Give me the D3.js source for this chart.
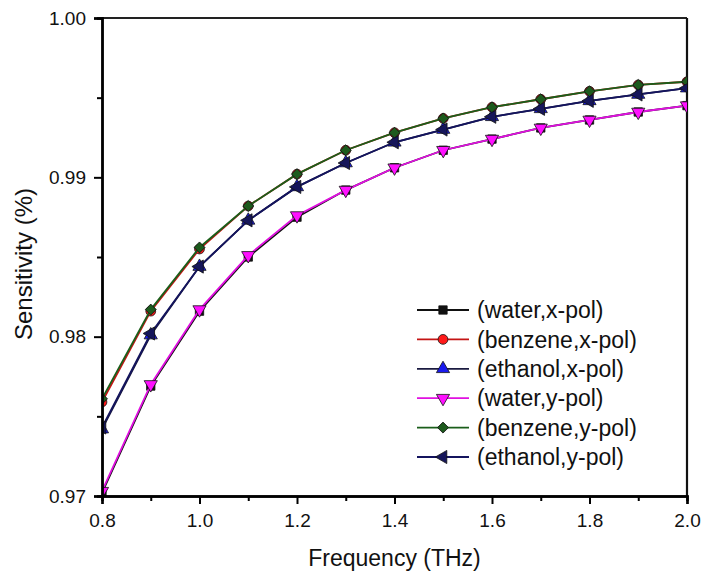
<!DOCTYPE html>
<html>
<head>
<meta charset="utf-8">
<title>sensitivity chart</title>
<script src="https://d3js.org/d3.v7.min.js"></script>
<style>
body { margin: 0; background: #fff; }
svg text { font-family: "Liberation Sans", Arial, sans-serif; fill: #111; }
</style>
</head>
<body>
<svg id="chart" width="702" height="574"></svg>
<script>
// frequency points (THz)
const freq = [0.8, 0.9, 1.0, 1.1, 1.2, 1.3, 1.4, 1.5, 1.6, 1.7, 1.8, 1.9, 2.0];

// sensitivity values
const waterX   = [0.9702, 0.9769, 0.9816, 0.9850, 0.9875, 0.9892, 0.9906, 0.9917, 0.9924, 0.9931, 0.9936, 0.9941, 0.9945];
const benzeneX = [0.9759, 0.9816, 0.9855, 0.9882, 0.9902, 0.9917, 0.9928, 0.9937, 0.9944, 0.9949, 0.9954, 0.9958, 0.9960];
const ethanolX = [0.9742, 0.9801, 0.9844, 0.9873, 0.9894, 0.9909, 0.9922, 0.9930, 0.9938, 0.9943, 0.9948, 0.9952, 0.9956];
const waterY   = [0.9703, 0.9770, 0.9817, 0.9851, 0.9876, 0.9892, 0.9906, 0.9917, 0.9924, 0.9931, 0.9936, 0.9941, 0.9945];
const benzeneY = [0.9761, 0.9817, 0.9856, 0.9882, 0.9902, 0.9917, 0.9928, 0.9937, 0.9944, 0.9949, 0.9954, 0.9958, 0.9960];
const ethanolY = [0.9743, 0.9802, 0.9844, 0.9873, 0.9894, 0.9909, 0.9922, 0.9930, 0.9938, 0.9943, 0.9948, 0.9952, 0.9956];

const seriesNames = ["(water,x-pol)", "(benzene,x-pol)", "(ethanol,x-pol)", "(water,y-pol)", "(benzene,y-pol)", "(ethanol,y-pol)"];

const xMajor = [0.8, 1.0, 1.2, 1.4, 1.6, 1.8, 2.0];
const xMinor = [0.9, 1.1, 1.3, 1.5, 1.7, 1.9];
const yMajor = [0.97, 0.98, 0.99, 1.00];
const yMinor = [0.975, 0.985, 0.995];

// diamond = square turned 45 degrees
const series = [
    { name: seriesNames[0], values: waterX,   line: "#111111", fill: "#111111", sym: d3.symbolSquare,   size: 70, rot: 0 },
    { name: seriesNames[1], values: benzeneX, line: "#c41414", fill: "#ff1a1a", sym: d3.symbolCircle,   size: 75, rot: 0 },
    { name: seriesNames[2], values: ethanolX, line: "#1a1a40", fill: "#1a1aee", sym: d3.symbolTriangle, size: 75, rot: 0 },
    { name: seriesNames[3], values: waterY,   line: "#e010e0", fill: "#ff10ff", sym: d3.symbolTriangle, size: 75, rot: 180 },
    { name: seriesNames[4], values: benzeneY, line: "#1a5e1a", fill: "#1d5a1d", sym: d3.symbolSquare,   size: 60, rot: 45 },
    { name: seriesNames[5], values: ethanolY, line: "#14145e", fill: "#16165a", sym: d3.symbolTriangle, size: 75, rot: -90 }
];

const svg = d3.select("#chart");
const plotLeft = 102, plotRight = 687, plotTop = 18, plotBottom = 496;

const x = d3.scaleLinear().domain([0.8, 2.0]).range([plotLeft, plotRight]);
const y = d3.scaleLinear().domain([0.97, 1.00]).range([plotBottom, plotTop]);

svg.append("defs").append("clipPath").attr("id", "clip")
    .append("rect").attr("x", plotLeft).attr("y", plotTop)
    .attr("width", plotRight - plotLeft).attr("height", plotBottom - plotTop);

// frame top and right
svg.append("line").attr("x1", plotLeft).attr("x2", plotRight).attr("y1", plotTop).attr("y2", plotTop)
    .attr("stroke", "#222").attr("stroke-width", 2);
svg.append("line").attr("x1", plotRight).attr("x2", plotRight).attr("y1", plotTop).attr("y2", plotBottom)
    .attr("stroke", "#111").attr("stroke-width", 2.2);

// series
const plot = svg.append("g").attr("clip-path", "url(#clip)");
const line = d3.line().x((d, i) => x(freq[i])).y(d => y(d));

series.forEach(s => {
    plot.append("path")
        .datum(s.values)
        .attr("fill", "none")
        .attr("stroke", s.line)
        .attr("stroke-width", 1.8)
        .attr("d", line);

    plot.selectAll(null)
        .data(s.values)
        .enter()
        .append("path")
        .attr("d", d3.symbol().type(s.sym).size(s.size))
        .attr("transform", (d, i) => `translate(${x(freq[i])},${y(d)}) rotate(${s.rot})`)
        .attr("fill", s.fill)
        .attr("stroke", "#111")
        .attr("stroke-width", 0.8);
});

// axes
const xAxis = svg.append("g").attr("transform", `translate(0,${plotBottom})`)
    .call(d3.axisBottom(x).tickValues(xMajor).tickFormat(d3.format(".1f")).tickSize(8).tickPadding(10));
const xAxisMinor = svg.append("g").attr("transform", `translate(0,${plotBottom})`)
    .call(d3.axisBottom(x).tickValues(xMinor).tickFormat("").tickSize(5));
const yAxis = svg.append("g").attr("transform", `translate(${plotLeft},0)`)
    .call(d3.axisLeft(y).tickValues(yMajor).tickFormat(d3.format(".2f")).tickSize(8).tickPadding(8));
const yAxisMinor = svg.append("g").attr("transform", `translate(${plotLeft},0)`)
    .call(d3.axisLeft(y).tickValues(yMinor).tickFormat("").tickSize(5));

[xAxis, xAxisMinor, yAxis, yAxisMinor].forEach(g => {
    g.select(".domain").attr("stroke", "#000").attr("stroke-width", 2.4);
    g.selectAll(".tick line").attr("stroke", "#000").attr("stroke-width", 2);
    g.selectAll(".tick text").attr("font-size", 19).attr("fill", "#111")
        .style("font-family", "'Liberation Sans', Arial, sans-serif");
});

// axis titles
svg.append("text")
    .attr("x", (plotLeft + plotRight) / 2)
    .attr("y", 566)
    .attr("text-anchor", "middle")
    .attr("font-size", 23)
    .text("Frequency (THz)");

svg.append("text")
    .attr("transform", "translate(32,264) rotate(-90)")
    .attr("text-anchor", "middle")
    .attr("font-size", 24)
    .text("Sensitivity (%)");

// legend
const legend = svg.append("g").attr("transform", "translate(417,310)");
series.forEach((s, i) => {
    const row = legend.append("g").attr("transform", `translate(0,${i * 29.4})`);
    row.append("line").attr("x1", 0).attr("x2", 52).attr("y1", 0).attr("y2", 0)
        .attr("stroke", s.line).attr("stroke-width", 1.8);
    row.append("path")
        .attr("d", d3.symbol().type(s.sym).size(s.size))
        .attr("transform", `translate(26,0) rotate(${s.rot})`)
        .attr("fill", s.fill).attr("stroke", "#111").attr("stroke-width", 0.8);
    row.append("text")
        .attr("x", 60)
        .attr("dy", "0.36em")
        .attr("font-size", 23)
        .text(s.name);
});
</script>
</body>
</html>
